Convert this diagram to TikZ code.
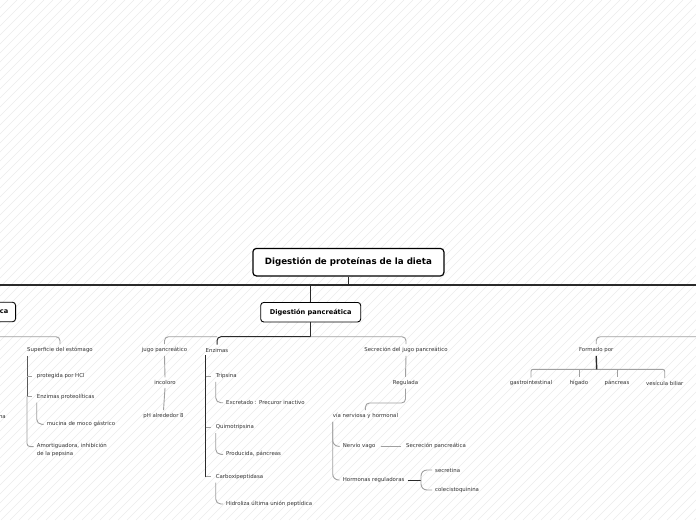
\documentclass[tikz,border=0pt]{standalone}
\usepackage{fontspec}
\setmainfont{DejaVu Sans}
\definecolor{txt}{HTML}{333333}
\definecolor{lineg}{HTML}{A0A0A0}
\definecolor{lined}{HTML}{2A2A2A}
\definecolor{hatch}{HTML}{ECECEC}
\begin{document}
\begin{tikzpicture}[x=1pt,y=-1pt,
  rootbox/.style={draw=black, line width=1.2pt, rounded corners=3.5pt, fill=white,
    font=\fontsize{8.7}{10}\selectfont\bfseries, text=black,
    minimum width=191pt, minimum height=27.5pt, inner sep=2pt},
  subbox/.style={draw=black, line width=0.9pt, rounded corners=3pt, fill=white,
    font=\fontsize{6.6}{8}\selectfont\bfseries, text=black,
    minimum height=19.5pt, inner sep=2pt},
  leaf/.style={font=\fontsize{5.4}{8}\selectfont, text=txt, inner sep=3pt},
  conn/.style={draw=lineg, line width=0.9pt},
  dark/.style={draw=lined, line width=1pt},
  bus/.style={draw=lined, line width=2pt},
  hatchline/.style={draw=hatch, line width=0.6pt}]
\clip (0,0) rectangle (696,520);
\useasboundingbox (0,0) rectangle (696,520);
\fill[white] (0,0) rectangle (696,520);
\foreach \i in {-530,-521,...,700} \draw[hatchline] (\i,520) -- (\i+520,0);

% main nodes
\node[rootbox] (root) at (348.4,262.2) {Digestión de proteínas de la dieta};
\node[subbox, minimum width=100pt] (pan) at (310.7,312.2) {Digestión pancreática};
\node[subbox, anchor=east, inner xsep=7.2pt, text width=36pt, align=right] (gas) at (16,312) {ca};
\coordinate (busL) at (-5,284.5);
\coordinate (busR) at (701,284.5);
\draw[bus] (busL) -- (busR);
\draw[dark, line width=1.3pt] (root.south) -- (root.south |- busL);
\draw[dark] (pan.north) -- (pan.north |- busL);

% leaf text nodes
\node[leaf, anchor=east] (na) at (9,416.7) {na};
\node[leaf] (sup) at (60,350) {Superficie del estómago};
\node[leaf, anchor=west] (prot) at (33.7,376) {protegida por HCl};
\node[leaf, anchor=west] (enzp) at (33.7,396.7) {Enzimas proteolíticas};
\node[leaf, anchor=west] (muc) at (43.7,424.3) {mucina de moco gástrico};
\node[leaf, anchor=west, align=left] (amort) at (33.7,450) {Amortiguadora, inhibición\\de la pepsina};

\node[leaf] (jugo) at (164.5,350) {jugo pancreático};
\node[leaf] (inc) at (165,382.7) {incoloro};
\node[leaf] (ph) at (163.5,416) {pH alrededor 8};

\node[leaf] (enz) at (217,350) {Enzimas};
\node[leaf, anchor=west] (trip) at (212.7,376) {Tripsina};
\node[leaf, anchor=west] (exc) at (223,402.7) {Excretado : Precuror inactivo};
\node[leaf, anchor=west] (quim) at (212.7,427.3) {Quimotripsina};
\node[leaf, anchor=west] (prod) at (223,454.3) {Producida, páncreas};
\node[leaf, anchor=west] (carb) at (212.7,476.7) {Carboxipeptidasa};
\node[leaf, anchor=west] (hid) at (223,504) {Hidroliza última unión peptídica};

\node[leaf] (sec) at (406,350) {Secreción del jugo pancreático};
\node[leaf] (reg) at (405.5,382.7) {Regulada};
\node[leaf, anchor=west] (via) at (329.7,416) {vía nerviosa y hormonal};
\node[leaf, anchor=west] (nerv) at (339.7,446.3) {Nervio vago};
\node[leaf, anchor=west] (secp) at (403,446.3) {Secreción pancreática};
\node[leaf, anchor=west] (horm) at (339.7,480) {Hormonas reguladoras};
\node[leaf, anchor=west] (secr) at (432,470) {secretina};
\node[leaf, anchor=west] (cole) at (432,490) {colecistoquinina};

\node[leaf] (form) at (596.2,350) {Formado por};
\node[leaf] (gi) at (531,383.3) {gastrointestinal};
\node[leaf] (hig) at (579,383.3) {hígado};
\node[leaf] (panc) at (617,383.3) {páncreas};
\node[leaf] (ves) at (664.7,383.3) {vesícula biliar};

% pancreatic bus
\coordinate (pb) at (310.7,336.7);
\draw[dark] (pan.south) -- (pb);
\draw[dark, rounded corners=4pt] (pb) -- (enz.north |- pb) -- (enz.north);
\draw[conn, rounded corners=4pt] (enz.north |- pb) -- (jugo.north |- pb) -- (jugo.north);
\draw[conn, rounded corners=4pt] (pb) -- (sec.north |- pb) -- (sec.north);

% gastric side
\coordinate (sl) at (-5,336.7);
\draw[conn, rounded corners=4pt] (sl) -- (sup.north |- sl) -- (sup.north);
\coordinate (supx) at ([xshift=3pt]sup.south west);
\coordinate (amL) at ([yshift=-6.5pt]amort.north west);
\draw[conn, rounded corners=3pt] (supx |- enzp.west) |- (amL);
\draw[dark, draw=black!65] (supx) -- (supx |- enzp.west);
\draw[conn, shorten >=1.5pt] (supx |- prot.west) -- (prot.west);
\draw[conn, shorten >=1.5pt] (supx |- enzp.west) -- (enzp.west);
\draw[conn, rounded corners=5pt] ([xshift=3pt]enzp.south west) |- (muc.west);

% jugo
\draw[conn] (jugo.south) -- (inc.north);
\draw[conn] (inc.south) -- (ph.north);

% enzimas
\coordinate (enzx) at ([xshift=3pt]enz.south west);
\draw[dark] (enzx) -- (enzx |- carb.west);
\draw[conn, shorten >=1.5pt] (enzx |- trip.west) -- (trip.west);
\draw[conn, shorten >=1.5pt] (enzx |- quim.west) -- (quim.west);
\draw[conn, shorten >=1.5pt] (enzx |- carb.west) -- (carb.west);
\draw[conn, rounded corners=5pt] ([xshift=3pt]trip.south west) |- (exc.west);
\draw[conn, rounded corners=5pt] ([xshift=3pt]quim.south west) |- (prod.west);
\draw[conn, rounded corners=5pt] ([xshift=3pt]carb.south west) |- (hid.west);

% secrecion
\draw[conn] (sec.south) -- (reg.north);
\coordinate (rv) at (0,403);
\draw[conn, rounded corners=4pt] (reg.south) -- (reg.south |- rv) -- (via.north |- rv) -- (via.north);
\coordinate (viax) at ([xshift=3pt]via.south west);
\draw[conn, rounded corners=6pt] (viax) |- (nerv.west);
\draw[conn, rounded corners=6pt] (viax) |- (horm.west);
\draw[conn, shorten <=2pt, shorten >=2pt] (nerv.east) -- (secp.west);
\coordinate (hf) at (421,480);
\draw[dark] (horm.east) -- (hf);
\draw[conn, rounded corners=6pt] (hf) |- (secr.west);
\draw[conn, rounded corners=6pt] (hf) |- (cole.west);

% formado por
\coordinate (fr) at (701,336.7);
\draw[conn, rounded corners=4pt] (fr) -- (form.north |- fr) -- (form.north);
\coordinate (fb) at (596.7,369.3);
\draw[conn, rounded corners=2pt] (gi.north) -- (gi.north |- fb) -- (ves.north |- fb) -- (ves.north);
\draw[conn] (hig.north |- fb) -- (hig.north);
\draw[conn] (panc.north |- fb) -- (panc.north);
\draw[dark, line width=1.4pt] (form.south) -- (fb);
\end{tikzpicture}
\end{document}
